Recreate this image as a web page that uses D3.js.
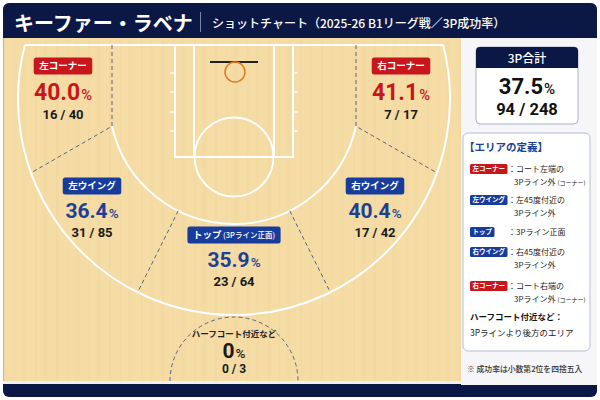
<!DOCTYPE html>
<html>
<head>
<meta charset="utf-8">
<script src="https://cdn.jsdelivr.net/npm/d3@7"></script>
<style>
  html, body { margin: 0; padding: 0; background: #ffffff; }
  svg { display: block; font-family: "Noto Sans CJK JP", "Noto Sans", sans-serif; }
  .num { font-family: Roboto, "Noto Sans", sans-serif; }
</style>
</head>
<body>
<div class="chart"></div>
<script>
// data
const zones = ["左コーナー", "右コーナー", "左ウイング", "右ウイング", "トップ", "ハーフコート付近など"];
const made = [16, 7, 31, 17, 23, 0];
const attempts = [40, 17, 85, 42, 64, 3];
const pct = ["40.0", "41.1", "36.4", "40.4", "35.9", "0"];
const totalMade = 94;
const totalAtt = 248;
const totalPct = "37.5";

const defTags = ["左コーナー", "左ウイング", "トップ", "右ウイング", "右コーナー"];
const defLine1 = ["：コート左端の", "：左45度付近の", "：3Pライン正面", "：右45度付近の", "：コート右端の"];
const defLine2 = ["3Pライン外", "3Pライン外", "", "3Pライン外", "3Pライン外"];
const defNote2 = ["(コーナー)", "", "", "", "(コーナー)"];

const W = 600, H = 400;
const navy = "#0b1846";
const red = "#c8161d";
const blue = "#183c9c";
const blueText = "#1d3f94";
const dash = "#5a6483";

const svg = d3.select(".chart").append("svg")
  .attr("width", W).attr("height", H);

const defs = svg.append("defs");
const wood = defs.append("pattern")
  .attr("id", "wood").attr("patternUnits", "userSpaceOnUse")
  .attr("width", 53).attr("height", 400);
wood.append("rect").attr("width", 53).attr("height", 400).attr("fill", "#f5dba4");
[[3, 2, 0.25], [14, 1, 0.2], [22, 4, 0.12], [35, 1.5, 0.2], [44, 3, 0.12]].forEach(([x, w, o]) => {
  wood.append("rect").attr("x", x).attr("width", w).attr("height", 400)
    .attr("fill", "#ecd096").attr("opacity", o);
});

// card frame
svg.append("rect").attr("x", 3).attr("y", 3).attr("width", 594).attr("height", 394)
  .attr("rx", 6).attr("fill", navy);
svg.append("rect").attr("x", 3).attr("y", 38).attr("width", 458).attr("height", 346)
  .attr("fill", "url(#wood)");
svg.append("line").attr("x1", 3.5).attr("x2", 3.5).attr("y1", 38).attr("y2", 384)
  .attr("stroke", "#b9b9c2").attr("stroke-width", 1);
svg.append("rect").attr("x", 461).attr("y", 38).attr("width", 136).attr("height", 347)
  .attr("fill", "#f6f6f9");
svg.append("line").attr("x1", 3).attr("x2", 461).attr("y1", 382.5).attr("y2", 382.5)
  .attr("stroke", "#eef0f6").attr("stroke-width", 3);

// header
svg.append("text").attr("x", 14).attr("y", 31)
  .attr("fill", "#fff").attr("font-size", 20).attr("font-weight", 700)
  .text("キーファー・ラベナ");
svg.append("line").attr("x1", 200.5).attr("x2", 200.5).attr("y1", 12).attr("y2", 32)
  .attr("stroke", "#7c84a3").attr("stroke-width", 1);
svg.append("text").attr("x", 212).attr("y", 28)
  .attr("fill", "#fff").attr("font-size", 12).attr("font-weight", 500)
  .text("ショットチャート（2025-26 B1リーグ戦／3P成功率）");

// court, in court units centred on the 3P arc centre
const cx = d3.scaleLinear().domain([-100, 100]).range([134, 334]);
const cy = d3.scaleLinear().domain([-100, 100]).range([-1, 199]);
const court = svg.append("g");
const line = d3.line().x(d => cx(d[0])).y(d => cy(d[1]));
const r3 = 125, rOut = 216;
const baseV = -54, bottomV = 282;
const polar = (r, deg) => [r * Math.cos(deg * Math.PI / 180), r * Math.sin(deg * Math.PI / 180)];
const unit = cx(1) - cx(0);

function arcPath(r, a0, a1, cu = 0, cv = 0) {
  const p = d3.path();
  p.arc(cx(cu), cy(cv), r * unit, a0, a1, false);
  return p.toString();
}

const white = { stroke: "#fff", "stroke-width": 2, fill: "none" };
function styled(sel, st) { Object.entries(st).forEach(([k, v]) => sel.attr(k, v)); return sel; }

// baseline
const uTop = Math.sqrt(rOut * rOut - baseV * baseV);
styled(court.append("path").attr("d", line([[-uTop, baseV], [uTop, baseV]])), white);
// outer arc
const aOut = Math.atan2(baseV, uTop);
styled(court.append("path").attr("d", arcPath(rOut, aOut, Math.PI - aOut)), white);
// 3P arc
const u3 = 122, v3 = Math.sqrt(r3 * r3 - u3 * u3);
const a3 = Math.atan2(v3, u3);
styled(court.append("path").attr("d", arcPath(r3, a3, Math.PI - a3)), white);
// lane
const laneBottom = 58;
[59, 40].forEach(hw => {
  styled(court.append("path").attr("d", line([[-hw, baseV], [-hw, laneBottom], [hw, laneBottom], [hw, baseV]])), white);
});
// lane hash marks
[-26, -7, 13, 32].forEach(v => {
  [-1, 1].forEach(s => {
    court.append("path").attr("d", line([[s * 59, v], [s * 64, v]]))
      .attr("stroke", "#fff").attr("stroke-width", 1.5);
  });
});
// free throw circle
styled(court.append("circle").attr("cx", cx(0)).attr("cy", cy(laneBottom)).attr("r", 39.5 * unit), white);
// backboard & rim
court.append("path").attr("d", line([[-24, -37], [24, -37]]))
  .attr("stroke", "#222").attr("stroke-width", 2);
court.append("circle").attr("cx", cx(1)).attr("cy", cy(-27)).attr("r", 10 * unit)
  .attr("fill", "none").attr("stroke", "#e07a1f").attr("stroke-width", 1.5);

// zone dividers
const dashed = { stroke: dash, "stroke-width": 1, "stroke-dasharray": "4,3", fill: "none" };
[-1, 1].forEach(s => {
  const pIn = [s * u3, v3];
  const o = polar(rOut, s < 0 ? 160 : 20);
  styled(court.append("path").attr("d", line([[s * u3, baseV], pIn, o])), dashed);
  const ti = polar(r3, s < 0 ? 116.5 : 63.5);
  const to = polar(rOut, s < 0 ? 116.5 : 63.5);
  styled(court.append("path").attr("d", line([ti, to])), dashed);
});
styled(court.append("path").attr("d", arcPath(64, Math.PI, 2 * Math.PI, 0, bottomV)), dashed);

// zone labels (pill centre in court units)
const anchors = [[-171, -33], [167, -33], [-142, 87], [141, 87], [0, 136], [0, 238]];
const pctSize = [23, 23, 21, 21, 21, 21];
const isCorner = d => d.name.includes("コーナー");

const zoneData = zones.map((name, i) => ({
  name, made: made[i], att: attempts[i], pct: pct[i], a: anchors[i], size: pctSize[i]
}));

const zg = svg.append("g").selectAll("g").data(zoneData).join("g")
  .attr("transform", d => `translate(${cx(d.a[0])},${cy(d.a[1])})`);

zg.each(function (d, i) {
  const g = d3.select(this);
  const half = i === 5;
  if (!half) {
    const t = g.append("text").attr("text-anchor", "middle").attr("y", 3.4)
      .attr("fill", "#fff").attr("font-size", 9.5).attr("font-weight", 700);
    t.append("tspan").text(d.name);
    if (d.name === "トップ") {
      t.append("tspan").attr("font-size", 7.5).attr("font-weight", 500).text(" (3Pライン正面)");
    }
    const w = t.node().getComputedTextLength() + 11;
    g.insert("rect", "text").attr("x", -w / 2).attr("y", -8.5).attr("width", w).attr("height", 17)
      .attr("rx", 2.5).attr("fill", isCorner(d) ? red : blue);
  } else {
    g.append("text").attr("text-anchor", "middle").attr("y", 0)
      .attr("fill", "#222").attr("font-size", 8.5).attr("font-weight", 700).text(d.name);
  }
  const col = isCorner(d) ? red : (half ? "#1a1a1a" : blueText);
  const pt = g.append("text").attr("class", "num").attr("text-anchor", "middle")
    .attr("y", half ? 21 : (isCorner(d) ? 34 : 31.5))
    .attr("fill", col).attr("font-weight", 700);
  pt.append("tspan").attr("font-size", d.size).text(d.pct);
  pt.append("tspan").attr("font-size", d.size * 0.64).attr("font-weight", 500).attr("dx", 1).text("%");
  g.append("text").attr("class", "num").attr("text-anchor", "middle")
    .attr("y", half ? 35.5 : (isCorner(d) ? 52.5 : 51))
    .attr("fill", "#1a1a1a").attr("font-size", half ? 12 : 13).attr("font-weight", 700)
    .text(`${d.made} / ${d.att}`);
});

// right panel: totals box
const tb = svg.append("g").attr("transform", "translate(476,47)");
tb.append("rect").attr("width", 102).attr("height", 77).attr("rx", 4)
  .attr("fill", "#fff").attr("stroke", "#a9b1cc").attr("stroke-width", 1);
tb.append("path").attr("d", "M0,21V4a4,4 0 0 1 4,-4H98a4,4 0 0 1 4,4V21Z").attr("fill", navy);
tb.append("text").attr("x", 51).attr("y", 15.5).attr("text-anchor", "middle")
  .attr("fill", "#fff").attr("font-size", 12).attr("font-weight", 500).text("3P合計");
const tp = tb.append("text").attr("class", "num").attr("x", 51).attr("y", 46.5).attr("text-anchor", "middle")
  .attr("fill", "#111").attr("font-weight", 700);
tp.append("tspan").attr("font-size", 22).text(totalPct);
tp.append("tspan").attr("font-size", 15).attr("font-weight", 500).attr("dx", 1).text("%");
tb.append("text").attr("class", "num").attr("x", 51).attr("y", 68).attr("text-anchor", "middle")
  .attr("fill", "#111").attr("font-size", 16.5).attr("font-weight", 700)
  .text(`${totalMade} / ${totalAtt}`);

// right panel: definitions box
const db = svg.append("g").attr("transform", "translate(463,133)");
db.append("rect").attr("width", 127).attr("height", 218).attr("rx", 5)
  .attr("fill", "#fff").attr("stroke", "#b7bed6").attr("stroke-width", 1);
db.append("text").attr("x", 1).attr("y", 17.5).attr("fill", blueText)
  .attr("font-size", 10.5).attr("font-weight", 700).text("【エリアの定義】");

const rowY = d3.scaleOrdinal().domain(defTags.map((t, i) => i)).range([36, 67, 99, 119, 153]);
defTags.forEach((tag, i) => {
  const y = rowY(i);
  const tt = db.append("text").attr("x", 9.5).attr("y", y + 2.4)
    .attr("fill", "#fff").attr("font-size", 6.5).attr("font-weight", 700).text(tag);
  const w = tt.node().getComputedTextLength() + 5;
  db.insert("rect", "text:last-child").attr("x", 7).attr("y", y - 5).attr("width", w).attr("height", 10)
    .attr("rx", 1.5).attr("fill", tag.includes("コーナー") ? red : blue);
  db.append("text").attr("x", 45).attr("y", y + 3.3).attr("fill", "#222")
    .attr("font-size", 8).text(defLine1[i]);
  if (defLine2[i]) {
    const l2 = db.append("text").attr("x", 51).attr("y", y + 16).attr("fill", "#222").attr("font-size", 8);
    l2.append("tspan").text(defLine2[i]);
    if (defNote2[i]) l2.append("tspan").attr("font-size", 6).attr("dx", 2).text(defNote2[i]);
  }
});
db.append("text").attr("x", 7).attr("y", 187).attr("fill", "#111")
  .attr("font-size", 8.5).attr("font-weight", 700).text("ハーフコート付近など：");
db.append("text").attr("x", 7).attr("y", 203).attr("fill", "#222")
  .attr("font-size", 8.5).text("3Pラインより後方のエリア");

svg.append("text").attr("x", 467).attr("y", 372).attr("fill", "#333")
  .attr("font-size", 7.8).attr("font-weight", 500).text("※ 成功率は小数第2位を四捨五入");
</script>
</body>
</html>
